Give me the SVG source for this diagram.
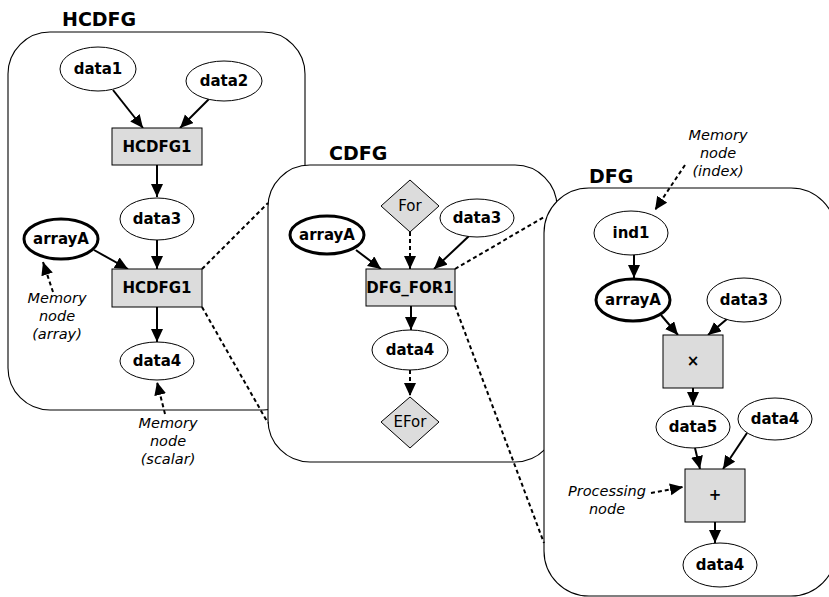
<svg xmlns="http://www.w3.org/2000/svg" width="829" height="597" viewBox="0 0 829 597">
<defs>
<style>
.frame{fill:#fff;stroke:#000;stroke-width:1.1}
.el{fill:#fff;stroke:#000;stroke-width:1}
.mem{fill:#fff;stroke:#000;stroke-width:3}
.proc{fill:#dcdcdc;stroke:#000;stroke-width:1}
.lbl{font-family:"DejaVu Sans",Verdana,sans-serif;font-size:15px;font-weight:bold;text-anchor:middle;fill:#000}
.ctl{font-family:"DejaVu Sans",Verdana,sans-serif;font-size:15px;text-anchor:middle;fill:#000}
.note{font-family:"DejaVu Sans",Verdana,sans-serif;font-size:14.5px;font-style:italic;text-anchor:middle;fill:#000}
.title{font-family:"DejaVu Sans",Verdana,sans-serif;font-size:19px;font-weight:bold;fill:#000}
.arr{fill:none;stroke:#000;stroke-width:2;marker-end:url(#ah)}
.darr{fill:none;stroke:#000;stroke-width:2;stroke-dasharray:4 3;marker-end:url(#ah)}
.zoom{fill:none;stroke:#000;stroke-width:2;stroke-dasharray:4 3}
</style>
<marker id="ah" markerUnits="userSpaceOnUse" markerWidth="14" markerHeight="13" refX="13" refY="6" orient="auto">
<path d="M0,0 L13,6 L0,12 z" fill="#000"/>
</marker>
</defs>
<rect width="829" height="597" fill="#fff"/>

<g id="frame-hcdfg">
<rect class="frame" x="8" y="32" width="297" height="378" rx="42"/>
<text class="title" x="62" y="26">HCDFG</text>
</g>
<g id="frame-cdfg">
<rect class="frame" x="268" y="165" width="289" height="297" rx="42"/>
<text class="title" x="329" y="160">CDFG</text>
</g>
<g id="frame-dfg">
<rect class="frame" x="544" y="188" width="292" height="408" rx="45"/>
<text class="title" x="589" y="183">DFG</text>
</g>

<g id="connectors">
<!-- HCDFG -->
<line class="arr" x1="113" y1="90" x2="143" y2="128"/>
<line class="arr" x1="210" y1="98" x2="180" y2="128"/>
<line class="arr" x1="157" y1="165" x2="157" y2="197"/>
<line class="arr" x1="94" y1="250" x2="128" y2="269"/>
<line class="arr" x1="157" y1="240" x2="157" y2="269"/>
<line class="arr" x1="157" y1="307" x2="157" y2="342"/>
<line class="darr" x1="53" y1="292" x2="43" y2="262"/>
<line class="darr" x1="165" y1="414" x2="157" y2="382"/>
<!-- zoom links -->
<line class="zoom" x1="202" y1="269" x2="268" y2="203"/>
<line class="zoom" x1="202" y1="307" x2="268" y2="423"/>
<line class="zoom" x1="455" y1="269" x2="544" y2="217"/>
<line class="zoom" x1="455" y1="306" x2="544" y2="543"/>
<!-- CDFG -->
<line class="arr" x1="356" y1="250" x2="381" y2="269"/>
<line class="darr" x1="410" y1="232" x2="410" y2="269"/>
<line class="arr" x1="469" y1="236" x2="434" y2="269"/>
<line class="arr" x1="411" y1="306" x2="411" y2="330"/>
<line class="darr" x1="410" y1="370" x2="410" y2="396"/>
<!-- DFG -->
<line class="darr" x1="685" y1="165" x2="655" y2="210"/>
<line class="arr" x1="634" y1="255" x2="634" y2="278"/>
<line class="arr" x1="661" y1="315" x2="678" y2="335"/>
<line class="arr" x1="727" y1="319" x2="708" y2="335"/>
<line class="arr" x1="693" y1="388" x2="693" y2="405"/>
<line class="arr" x1="695" y1="448" x2="700" y2="469"/>
<line class="arr" x1="747" y1="433" x2="723" y2="469"/>
<line class="darr" x1="651" y1="493" x2="683" y2="487"/>
<line class="arr" x1="715" y1="522" x2="715" y2="543"/>
</g>

<g id="hcdfg-data1"><ellipse class="el" cx="98" cy="69" rx="38" ry="22"/><text class="lbl" x="98" y="74">data1</text></g>
<g id="hcdfg-data2"><ellipse class="el" cx="224" cy="81" rx="38" ry="20"/><text class="lbl" x="224" y="86">data2</text></g>
<g id="hcdfg-hcdfg1a"><rect class="proc" x="112" y="128" width="90" height="37"/><text class="lbl" x="157" y="152">HCDFG1</text></g>
<g id="hcdfg-data3"><ellipse class="el" cx="157" cy="219" rx="37" ry="21"/><text class="lbl" x="157" y="224">data3</text></g>
<g id="hcdfg-arrayA"><ellipse class="mem" cx="61" cy="239" rx="37" ry="20"/><text class="lbl" x="61" y="244">arrayA</text></g>
<g id="hcdfg-hcdfg1b"><rect class="proc" x="112" y="269" width="90" height="38"/><text class="lbl" x="157" y="293">HCDFG1</text></g>
<g id="hcdfg-data4"><ellipse class="el" cx="157" cy="361" rx="37" ry="19"/><text class="lbl" x="157" y="366">data4</text></g>
<g id="note-array"><text class="note" x="57" y="303">Memory</text><text class="note" x="57" y="321">node</text><text class="note" x="57" y="339">(array)</text></g>
<g id="note-scalar"><text class="note" x="168" y="428">Memory</text><text class="note" x="168" y="446">node</text><text class="note" x="168" y="464">(scalar)</text></g>

<g id="cdfg-for"><polygon class="proc" points="410,180 439,206 410,232 381,206"/><text class="ctl" x="410" y="211">For</text></g>
<g id="cdfg-data3"><ellipse class="el" cx="477" cy="218" rx="37" ry="19"/><text class="lbl" x="477" y="223">data3</text></g>
<g id="cdfg-arrayA"><ellipse class="mem" cx="327" cy="235" rx="37" ry="19"/><text class="lbl" x="327" y="240">arrayA</text></g>
<g id="cdfg-dfgfor1"><rect class="proc" x="366" y="269" width="89" height="37"/><text class="lbl" x="410" y="293">DFG_FOR1</text></g>
<g id="cdfg-data4"><ellipse class="el" cx="410" cy="350" rx="38" ry="20"/><text class="lbl" x="410" y="355">data4</text></g>
<g id="cdfg-efor"><polygon class="proc" points="410,397 439,422 410,448 381,422"/><text class="ctl" x="410" y="427">EFor</text></g>

<g id="note-index"><text class="note" x="718" y="140">Memory</text><text class="note" x="718" y="158">node</text><text class="note" x="718" y="176">(index)</text></g>
<g id="dfg-ind1"><ellipse class="el" cx="631" cy="233" rx="37" ry="22"/><text class="lbl" x="631" y="238">ind1</text></g>
<g id="dfg-arrayA"><ellipse class="mem" cx="633" cy="300" rx="37" ry="21"/><text class="lbl" x="633" y="305">arrayA</text></g>
<g id="dfg-data3"><ellipse class="el" cx="744" cy="300" rx="37" ry="22"/><text class="lbl" x="744" y="305">data3</text></g>
<g id="dfg-mul"><rect class="proc" x="663" y="335" width="60" height="53"/><text class="lbl" x="693" y="366">×</text></g>
<g id="dfg-data5"><ellipse class="el" cx="693" cy="427" rx="37" ry="21"/><text class="lbl" x="693" y="432">data5</text></g>
<g id="dfg-data4in"><ellipse class="el" cx="775" cy="419" rx="37" ry="21"/><text class="lbl" x="775" y="424">data4</text></g>
<g id="dfg-add"><rect class="proc" x="685" y="469" width="60" height="53"/><text class="lbl" x="715" y="500">+</text></g>
<g id="dfg-data4out"><ellipse class="el" cx="720" cy="565" rx="37" ry="22"/><text class="lbl" x="720" y="570">data4</text></g>
<g id="note-proc"><text class="note" x="607" y="496">Processing</text><text class="note" x="607" y="514">node</text></g>
</svg>
